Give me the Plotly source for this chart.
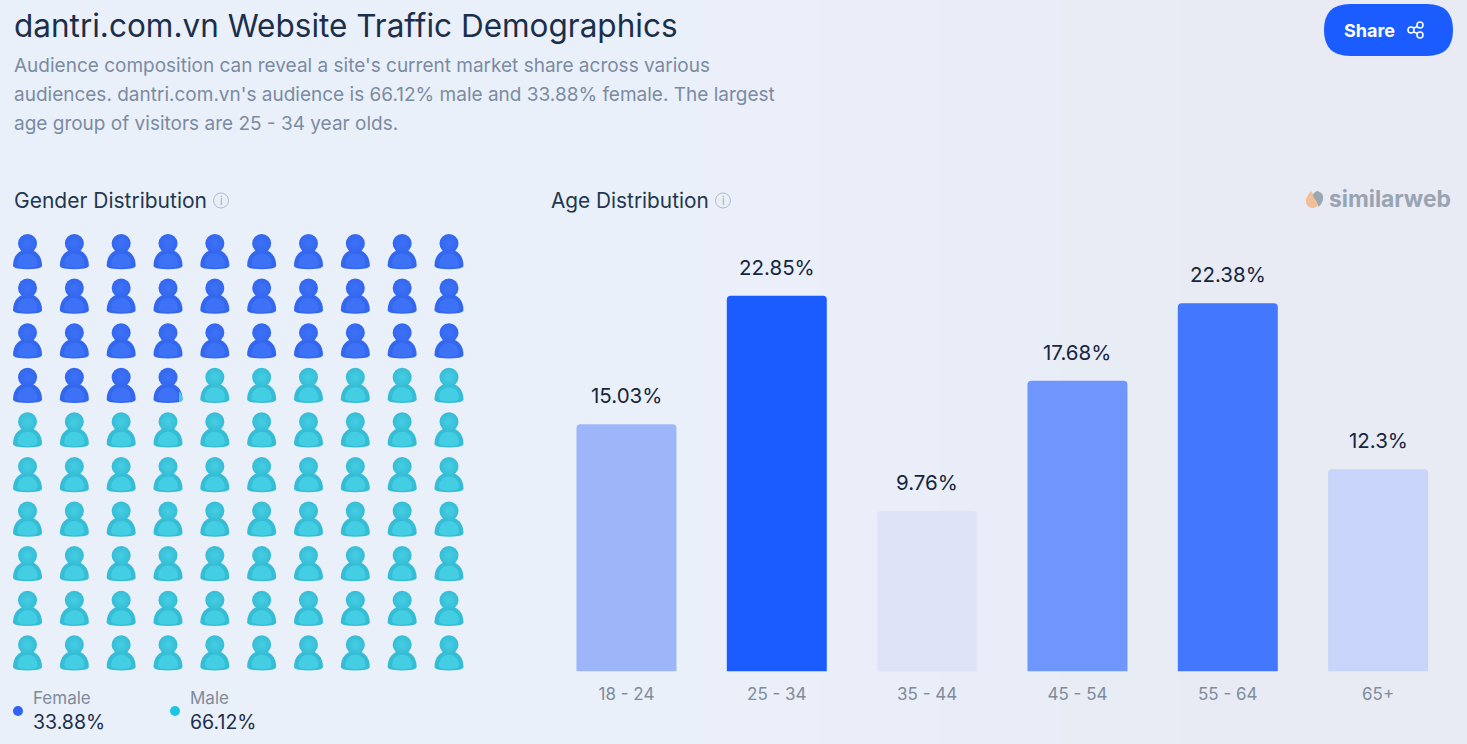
import plotly.graph_objects as go

W = 1467
H = 744
FONT = "Inter"

# data
age_groups = ["18 - 24", "25 - 34", "35 - 44", "45 - 54", "55 - 64", "65+"]
age_values = [15.03, 22.85, 9.76, 17.68, 22.38, 12.3]
age_colors = ["#9DB6FA", "#1A5CFF", "#DFE3F7", "#6F96FC", "#4377FE", "#C8D4F9"]
gender_names = ["Female", "Male"]
gender_values = [33.88, 66.12]
gender_colors = ["#2F62F5", "#1CC6E0"]
intro_lines = [
    "Audience composition can reveal a site's current market share across various",
    "audiences. dantri.com.vn's audience is 66.12% male and 33.88% female. The largest",
    "age group of visitors are 25 - 34 year olds.",
]

GRID_COLS = 10
GRID_ROWS = 10

# icon palettes: edge, centre
BLUE = ("#3367EE", "#3D72F7")
CYAN = ("#36BDD6", "#44CEE3")

# pixel sized shapes: y goes up from the anchor
BODY = "M-14.5,-22 C-14.5,-12 -8,-6 0,-6 C8,-6 14.5,-12 14.5,-22 Q14.5,-24 10,-25 Q0,-26.5 -10,-25 Q-14.5,-24 -14.5,-22 Z"
BODY_IN = "M-10,-21 C-10,-14 -6,-10 0,-10 C6,-10 10,-14 10,-21 Q10,-24 0,-24.5 Q-10,-24 -10,-21 Z"


def label(text, x, y, size, color, anchor="left", weight=None):
    font = dict(family=FONT, size=size, color=color)
    if weight:
        font["weight"] = weight
    fig.add_annotation(text=text, x=x, y=y, xref="x3", yref="y3", showarrow=False,
                       xanchor=anchor, yanchor="middle", font=font, borderpad=0, borderwidth=0)


def deco(**kw):
    fig.add_shape(xref="x3", yref="y3", **kw)


def icon_body(col, row, colors):
    for path, c in ((BODY, colors[0]), (BODY_IN, colors[1])):
        fig.add_shape(type="path", path=path, xref="x2", yref="y2", xsizemode="pixel", ysizemode="pixel",
                      xanchor=col, yanchor=row, fillcolor=c, line_width=0, layer="below")


fig = go.Figure()

# soft background going greyer to the right
for i, c in enumerate(["#EAEFFA", "#E9EEF8", "#E9EDF7", "#E8ECF5", "#E8EBF4"]):
    fig.add_shape(type="rect", xref="paper", yref="paper", x0=(700 + i * 120) / W, x1=1, y0=0, y1=1,
                  fillcolor=c, line_width=0, layer="below")

# age bars
fig.add_trace(go.Bar(x=age_groups, y=age_values, marker=dict(color=age_colors, line_width=0),
                     xaxis="x", yaxis="y", showlegend=False))
for g, v in zip(age_groups, age_values):
    fig.add_annotation(text=f"{v:g}%", x=g, y=v, xref="x", yref="y", showarrow=False, yshift=28.5,
                       yanchor="middle", font=dict(family=FONT, size=20.5, color="#16263E"))

# people grid
female_cells = gender_values[0]
head_x = {0: [], 1: []}
head_y = {0: [], 1: []}
for n in range(GRID_COLS * GRID_ROWS):
    row, col = divmod(n, GRID_COLS)
    g = 0 if n < female_cells else 1
    head_x[g].append(col)
    head_y[g].append(row)
    icon_body(col, row, BLUE if g == 0 else CYAN)
    if n < female_cells < n + 1:
        # rest of the partly filled person
        cut = -14.5 + 29 * (female_cells - n)
        fig.add_shape(type="path", xref="x2", yref="y2", xsizemode="pixel", ysizemode="pixel",
                      xanchor=col, yanchor=row, fillcolor=CYAN[1], line_width=0, layer="below",
                      path=f"M{cut},-14 Q14.5,-17 14.5,-22 Q14.5,-24 {cut},-25 Z")

for g, palette in ((0, BLUE), (1, CYAN)):
    fig.add_trace(go.Scatter(x=head_x[g], y=head_y[g], mode="markers", xaxis="x2", yaxis="y2",
                             showlegend=False, hoverinfo="skip",
                             marker=dict(size=19, color=palette[0], line_width=0,
                                         gradient=dict(type="radial", color=palette[1]))))

# invisible pixel axis for the page furniture
fig.add_trace(go.Scatter(x=[0, W], y=[0, H], mode="markers", marker_opacity=0, xaxis="x3", yaxis="y3",
                         showlegend=False, hoverinfo="skip"))

label("dantri.com.vn Website Traffic Demographics", 14, 25, 31.5, "#1B2F4B")
for i, line in enumerate(intro_lines):
    label(line, 14, 65 + i * 29, 19, "#7B8BA1")
label("Gender Distribution", 14, 200, 21, "#22364F")
label("Age Distribution", 551, 200, 20.8, "#22364F")

for cx in (221, 723):
    deco(type="circle", x0=cx - 7.5, x1=cx + 7.5, y0=193, y1=208, line=dict(color="#B3BAC6", width=1))
    label("i", cx, 201, 11, "#A5ADBA", anchor="center")

# share button
deco(type="path", path="M1350,4 L1427,4 Q1453,4 1453,30 Q1453,56 1427,56 L1350,56 Q1324,56 1324,30 Q1324,4 1350,4 Z",
     fillcolor="#1A5CFF", line_width=0)
label("Share", 1344, 30, 18, "#FFFFFF", weight=700)
deco(type="path", path="M1421,25 L1409,30 L1421,35", line=dict(color="#FFFFFF", width=1.5))
for cx, cy in ((1420, 25), (1411, 30), (1420, 35)):
    deco(type="circle", x0=cx - 3, x1=cx + 3, y0=cy - 3, y1=cy + 3, fillcolor="#1A5CFF",
         line=dict(color="#FFFFFF", width=1.5))

# similarweb logo
deco(type="path", path="M1311,191 Q1305,198 1306,203 Q1308,208 1313,208 Q1319,207 1318,201 Q1316,198 1311,191 Z",
     fillcolor="#F2BE96", line_width=0)
deco(type="path", path="M1317,191 Q1311,194 1314,198 Q1318,202 1318,207 Q1324,203 1323,196 Q1322,192 1317,191 Z",
     fillcolor="#9AA7B4", line_width=0)
label("similarweb", 1329, 198, 22.8, "#98A4B2", weight=700)

# legend
for i, lx in enumerate((18, 175)):
    deco(type="circle", x0=lx - 5, x1=lx + 5, y0=706, y1=716, fillcolor=gender_colors[i], line_width=0)
    label(gender_names[i], lx + 15, 698, 17, "#7F8B9B")
    label(f"{gender_values[i]}%", lx + 15, 722, 19.5, "#1B2F4B")

fig.update_layout(
    width=W, height=H, margin=dict(l=0, r=0, t=0, b=0),
    paper_bgcolor="#EAF0FA", plot_bgcolor="rgba(0,0,0,0)",
    bargap=0.335, barcornerradius=4,
    xaxis=dict(domain=[551.3 / W, 1453.3 / W], anchor="y", showgrid=False, zeroline=False, showline=False,
               ticks="outside", ticklen=7, tickcolor="rgba(0,0,0,0)", type="category",
               tickfont=dict(family=FONT, size=17, color="#7F8B9B")),
    yaxis=dict(domain=[(H - 671.5) / H, (H - 230) / H], anchor="x", range=[0, 26.84], visible=False),
    xaxis2=dict(domain=[4.1 / W, 472.4 / W], anchor="y2", range=[-0.5, 9.5], visible=False),
    yaxis2=dict(domain=[(H - 689.3) / H, (H - 221.2) / H], anchor="x2", range=[10, -0.5], visible=False),
    xaxis3=dict(domain=[0, 1], anchor="y3", range=[0, W], visible=False),
    yaxis3=dict(domain=[0, 1], anchor="x3", range=[H, 0], visible=False),
)

fig.write_html("out.html", config={"displayModeBar": False}, post_script="document.body.style.margin='0';")
